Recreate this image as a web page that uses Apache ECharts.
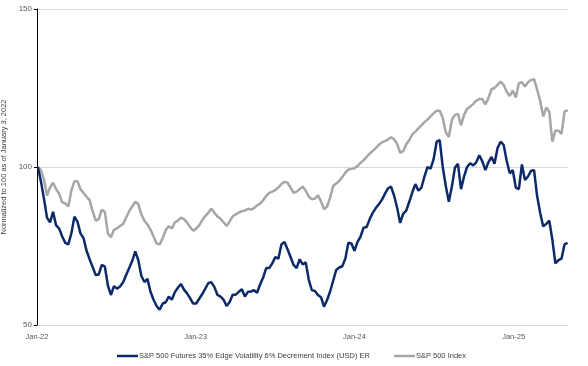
<!DOCTYPE html>
<html>
<head>
<meta charset="utf-8">
<script src="https://cdn.jsdelivr.net/npm/echarts@6/dist/echarts.min.js"></script>
<style>
html,body{margin:0;padding:0;background:#fff;}
#chart{width:588px;height:366px;}
</style>
</head>
<body>
<div id="chart"></div>
<script>
// Weekly observations; x = days since 2022-01-01 (first obs 2022-01-03 = day 2)
const startDay = 2;
const seriesNames = ['S&P 500 Futures 35% Edge Volatility 6% Decrement Index (USD) ER', 'S&P 500 Index'];
const xTickLabels = ['Jan-22', 'Jan-23', 'Jan-24', 'Jan-25'];
const xTickDays = [0, 365, 730, 1096];
const yTicks = [50, 100, 150];

const edgeVol = [
100,95.5,90,84,82.5,85.8,81.5,80.5,78,76,75.5,79,84.3,82.7,79,77.5,73.5,70.8,68.3,65.8,
66,69,68.5,62.5,59.5,62.3,61.5,62.2,63.5,65.8,68,70.3,73.3,70.5,65.5,63.6,64.6,60.5,58,56,
54.8,56.8,57.2,59,58,60.4,61.8,63,61.2,60,58.5,56.8,56.8,58.3,59.8,61.5,63.3,63.5,62,59.5,
59,58,56,57.3,59.6,59.6,60.5,61.3,59,60.5,60.6,61,60.2,62.8,65,68,68,69.5,71.5,71,
75.5,76.3,74,71.5,69,68,70.8,69.2,69.8,64.3,61,60.8,59.5,58.8,55.8,57.9,60.6,64,67.4,68.2,
68.6,71,76,75.8,73.5,76.3,78,80.8,81,83.5,85.5,87,88.2,89.6,91.5,93.2,93.8,91,87.2,82.3,
85.2,86.2,89,92,94.6,92.5,93.5,97,100,99.5,102.5,108,108.5,100,94,89,93.8,99.8,101,93,
97,100,101.2,100.5,101.5,103.7,101.8,99,101.5,103.2,101,106,108,107,102,98,99,93.5,93,100.8,
95.9,97,98.8,99,90.8,85.5,81.2,82,83,77,69.5,70.5,71,75.5,76
];

const spx = [
100,99,96,91,93.5,95,93,91.5,88.8,88.5,87.5,92.5,95.5,95.5,93,91.8,90.6,89.5,86,83,
83.5,86.5,85.8,79,77.8,80.1,80.6,81.3,82,84,86,87.5,89,88.2,85,83,81.8,80.2,78,75.8,
75.5,77.5,80,81.3,80.5,82.5,83,84,83.5,82.4,81,79.8,80.5,81.5,83.2,84.5,85.5,86.8,85.5,84.3,
83.6,82.5,81.3,82.8,84.4,85,85.6,86,86.2,86.8,86.5,87,87.8,88.4,89.5,90.8,91.8,92.2,92.7,93.5,
94.6,95.3,95,93.5,91.8,92.2,93,93.8,92.5,90.6,89.8,90,91,89.2,86.6,87.5,90.3,94,94.8,95.6,
96.8,98.2,99.2,99.4,99.6,100.3,101.3,102.2,103.2,104.2,105.1,106,107,107.8,108.2,108.7,109.4,108.8,107.3,104.5,
105,107.2,108.5,110.3,111.2,112.2,113.2,114.2,115,116,117,117.8,117.8,115.5,111,109.5,114.9,116.5,116.8,113.2,
116.5,118.4,119.1,120,121,121.5,121.5,119.8,121.8,124.6,125,126,127,126,123.8,122.5,124.2,122,126.5,126.8,
125.5,126.8,127.5,127.8,124.5,121,116,118.8,117.5,108,111.5,111.5,110.5,117.5,118
];

function toPairs(vals) {
  return vals.map((v, i) => [startDay + i * 7, v]);
}

const chart = echarts.init(document.getElementById('chart'), null, {renderer: 'canvas'});
const font = 'Liberation Sans';
chart.setOption({
  animation: false,
  backgroundColor: '#ffffff',
  grid: {left: 37, right: 20, top: 9, bottom: 41, containLabel: false, outerBoundsMode: 'none'},
  legend: {
    top: 347, left: 112,
    icon: 'rect', itemWidth: 21, itemHeight: 2.5, itemGap: 24,
    textStyle: {fontFamily: font, fontSize: 7.5, color: '#404040', padding: [0, 0, 0, -4]},
    data: seriesNames
  },
  xAxis: {
    type: 'value',
    min: 0, max: 1221,
    axisLine: {show: false},
    axisTick: {show: false},
    splitLine: {show: false},
    axisLabel: {
      customValues: xTickDays,
      formatter: function (v) {
        const i = xTickDays.indexOf(v);
        return i >= 0 ? xTickLabels[i] : '';
      },
      fontFamily: font, fontSize: 7.5, color: '#595959', margin: 8
    }
  },
  yAxis: {
    type: 'value', min: yTicks[0], max: yTicks[yTicks.length - 1], interval: 50,
    name: 'Normalized to 100 as of January 3, 2022',
    nameLocation: 'middle', nameGap: 25,
    nameTextStyle: {fontFamily: font, fontSize: 7.5, color: '#404040'},
    axisLine: {show: true, lineStyle: {color: '#000000', width: 1}},
    axisTick: {show: true, length: 3, lineStyle: {color: '#000000'}},
    splitLine: {lineStyle: {color: '#d9d9d9', width: 1}},
    axisLabel: {fontFamily: font, fontSize: 8, color: '#595959', margin: 5}
  },
  series: [
    {
      name: seriesNames[1], type: 'line', data: toPairs(spx),
      showSymbol: false, symbol: 'none',
      lineStyle: {color: '#a6a6a6', width: 2.5},
      itemStyle: {color: '#a6a6a6'}, z: 2
    },
    {
      name: seriesNames[0], type: 'line', data: toPairs(edgeVol),
      showSymbol: false, symbol: 'none',
      lineStyle: {color: '#0c2a6a', width: 2.5},
      itemStyle: {color: '#0c2a6a'}, z: 3
    }
  ]
});
</script>
</body>
</html>
